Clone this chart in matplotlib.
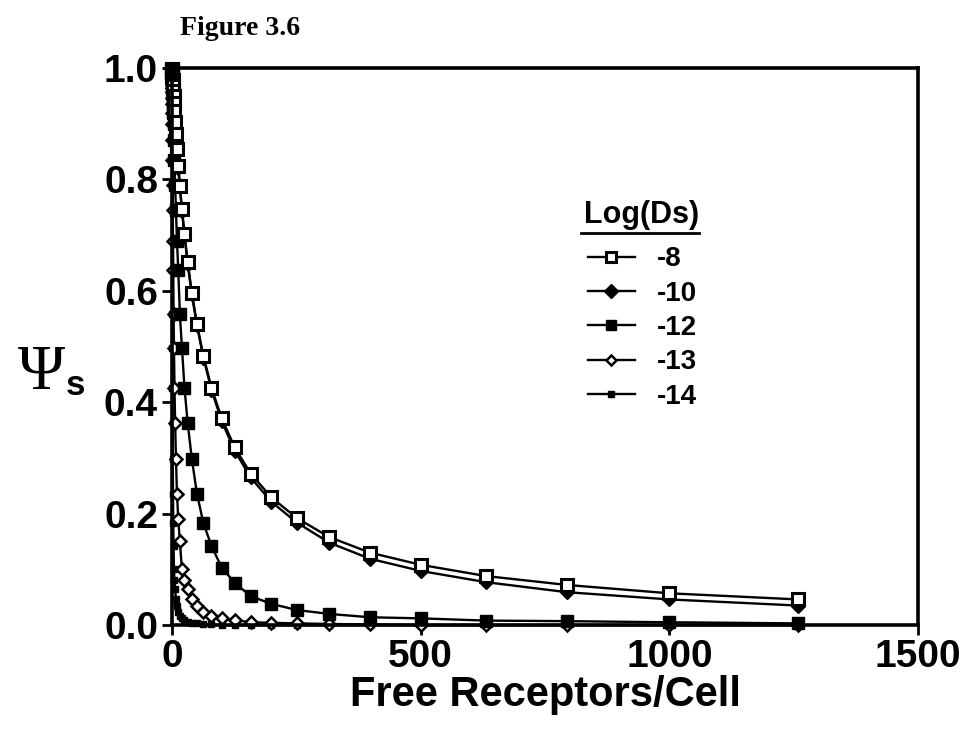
import matplotlib
matplotlib.use('Agg')
import matplotlib.pyplot as plt

# free receptors per cell (x) and fraction Psi_s for each Log(Ds)
receptors = [0.1, 0.126, 0.158, 0.2, 0.251, 0.316, 0.398, 0.501, 0.631, 0.794,
             1.0, 1.26, 1.58, 2.0, 2.51, 3.16, 3.98, 5.01, 6.31, 7.94,
             10, 12.6, 15.8, 20, 25.1, 31.6, 39.8, 50.1, 63.1, 79.4,
             100, 126, 158, 200, 251, 316, 398, 501, 631, 794, 1000, 1259]

psi_m8 = [0.998, 0.998, 0.997, 0.997, 0.996, 0.995, 0.993, 0.992, 0.989, 0.987,
          0.983, 0.979, 0.974, 0.967, 0.959, 0.949, 0.937, 0.922, 0.903, 0.881,
          0.855, 0.824, 0.789, 0.747, 0.702, 0.651, 0.597, 0.541, 0.483, 0.426,
          0.371, 0.319, 0.272, 0.229, 0.192, 0.158, 0.130, 0.108, 0.088, 0.072,
          0.057, 0.046]

psi_m10 = [0.998, 0.997, 0.997, 0.996, 0.995, 0.994, 0.992, 0.990, 0.988, 0.985,
           0.981, 0.977, 0.972, 0.965, 0.957, 0.947, 0.935, 0.920, 0.901, 0.878,
           0.852, 0.821, 0.786, 0.744, 0.699, 0.648, 0.594, 0.538, 0.480, 0.422,
           0.366, 0.313, 0.265, 0.221, 0.184, 0.148, 0.119, 0.097, 0.077, 0.059,
           0.046, 0.035]

psi_m12 = [0.995, 0.994, 0.993, 0.991, 0.990, 0.988, 0.985, 0.981, 0.977, 0.972,
           0.965, 0.957, 0.947, 0.935, 0.920, 0.900, 0.870, 0.835, 0.790, 0.745,
           0.690, 0.637, 0.559, 0.498, 0.426, 0.362, 0.299, 0.236, 0.183, 0.142,
           0.103, 0.076, 0.052, 0.038, 0.027, 0.020, 0.014, 0.012, 0.008, 0.007,
           0.005, 0.003]

psi_m13 = [0.981, 0.977, 0.972, 0.965, 0.957, 0.947, 0.935, 0.920, 0.900, 0.870,
           0.835, 0.790, 0.745, 0.690, 0.637, 0.559, 0.498, 0.426, 0.362, 0.299,
           0.236, 0.190, 0.150, 0.100, 0.080, 0.065, 0.047, 0.034, 0.024, 0.017,
           0.012, 0.009, 0.005, 0.004, 0.003, 0.002, 0.001, 0.0, 0.0, 0.0,
           0.0, 0.0]

psi_m14 = [0.920, 0.900, 0.870, 0.835, 0.790, 0.745, 0.690, 0.637, 0.559, 0.498,
           0.426, 0.362, 0.299, 0.236, 0.183, 0.142, 0.100, 0.080, 0.065, 0.047,
           0.034, 0.024, 0.017, 0.012, 0.009, 0.005, 0.004, 0.003, 0.002, 0.001,
           0.0, 0.0, 0.0, 0.0, 0.0, 0.0, 0.0, 0.0, 0.0, 0.0,
           0.0, 0.0]

x_ticks = [0, 500, 1000, 1500]
y_ticks = [0.0, 0.2, 0.4, 0.6, 0.8, 1.0]

sans = 'Liberation Sans'
serif = 'Liberation Serif'

fig = plt.figure(figsize=(9.69, 7.45), dpi=100)
ax = fig.add_axes([0.1775, 0.1610, 0.7700, 0.7477])

common = dict(color='black', linewidth=1.7, clip_on=False)
l14, = ax.plot(receptors, psi_m14, marker='s', markersize=4.5, markerfacecolor='black',
               markeredgecolor='black', label='-14', **common)
l13, = ax.plot(receptors, psi_m13, marker='D', markersize=6, markerfacecolor='white',
               markeredgecolor='black', markeredgewidth=1.8, label='-13', **common)
l12, = ax.plot(receptors, psi_m12, marker='s', markersize=8.5, markerfacecolor='black',
               markeredgecolor='black', label='-12', **common)
l10, = ax.plot(receptors, psi_m10, marker='D', markersize=7.5, markerfacecolor='black',
               markeredgecolor='black', label='-10', **common)
l8, = ax.plot(receptors, psi_m8, marker='s', markersize=8, markerfacecolor='white',
              markeredgecolor='black', markeredgewidth=2.2, label='-8', **common)

ax.set_xlim(0, 1500)
ax.set_ylim(0, 1.0)
ax.set_xticks(x_ticks)
ax.set_yticks(y_ticks)
ax.set_xticklabels([str(t) for t in x_ticks], fontfamily=sans, fontweight='bold', fontsize=28)
ax.set_yticklabels(['%.1f' % t for t in y_ticks], fontfamily=sans, fontweight='bold', fontsize=28)
ax.tick_params(direction='out', length=7, width=2, pad=3)
for s in ax.spines.values():
    s.set_linewidth(2.6)

ax.set_xlabel('Free Receptors/Cell', fontfamily=sans, fontweight='bold', fontsize=30, labelpad=0)

# y label: serif Psi with bold sans subscript s
fig.text(0.018, 0.498, '\u03a8', fontfamily=serif, fontsize=46, va='center', ha='left')
fig.text(0.068, 0.482, 's', fontfamily=sans, fontweight='bold', fontsize=25, va='center', ha='left')

fig.text(0.186, 0.962, 'Figure 3.6', fontfamily=serif, fontweight='bold', fontsize=20,
         va='center', ha='left')

# legend with underlined title
ax.text(0.630, 0.737, 'Log(Ds)', transform=ax.transAxes, fontfamily=sans,
        fontweight='bold', fontsize=22, ha='center', va='center')
ax.plot([0.548, 0.706], [0.704, 0.704], transform=ax.transAxes, color='black',
        linewidth=2, clip_on=False)
leg = ax.legend(handles=[l8, l10, l12, l13, l14], loc='upper left',
                bbox_to_anchor=(0.542, 0.70), frameon=False, handlelength=1.7,
                handletextpad=0.8, labelspacing=0.3, borderaxespad=0,
                prop={'family': sans, 'weight': 'bold', 'size': 20}, markerscale=0.9)

fig.savefig('out.png', dpi=100)
